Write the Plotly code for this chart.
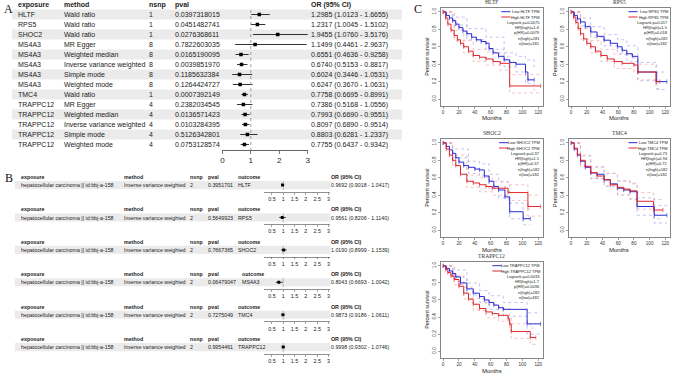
import plotly.graph_objects as go

W, H = 676, 377
def px(x): return x / W
def py(y): return 1 - y / H

SANS = "Liberation Sans"
SERIF = "Liberation Serif"

# ---------------- Panel A data ----------------
a_exposure = ["HLTF", "RPS5", "SHOC2", "MS4A3", "MS4A3", "MS4A3", "MS4A3", "MS4A3",
              "TMC4", "TRAPPC12", "TRAPPC12", "TRAPPC12", "TRAPPC12", "TRAPPC12"]
a_method = ["Wald ratio", "Wald ratio", "Wald ratio", "MR Egger", "Weighted median",
            "Inverse variance weighted", "Simple mode", "Weighted mode", "Wald ratio",
            "MR Egger", "Weighted median", "Inverse variance weighted", "Simple mode", "Weighted mode"]
a_nsnp = [1, 1, 1, 8, 8, 8, 8, 8, 1, 4, 4, 4, 4, 4]
a_pval = ["0.0397318015", "0.0451482741", "0.0276368611", "0.7822603035", "0.0165190095",
          "0.0039851970", "0.1185632384", "0.1264424727", "0.0007392149", "0.2382034545",
          "0.0136571423", "0.0103284395", "0.5126342801", "0.0753128574"]
a_or = [1.2985, 1.2317, 1.9455, 1.1499, 0.6551, 0.6740, 0.6024, 0.6247, 0.7758, 0.7386,
        0.7993, 0.8097, 0.8803, 0.7755]
a_lo = [1.0123, 1.0045, 1.0760, 0.4461, 0.4636, 0.5153, 0.3446, 0.3670, 0.6695, 0.5168,
        0.6690, 0.6890, 0.6281, 0.6437]
a_hi = [1.6655, 1.5102, 3.5176, 2.9637, 0.9258, 0.8817, 1.0531, 1.0631, 0.8991, 1.0556,
        0.9551, 0.9514, 1.2337, 0.9342]
a_ticks = [0, 1, 2, 3]

# ---------------- Panel B data ----------------
b_exposure = ["hepatocellular carcinoma || id:bbj-a-158"] * 6
b_method = ["Inverse variance weighted"] * 6
b_nsnp = [2, 2, 2, 2, 2, 2]
b_pval = ["0.3951701", "0.5649923", "0.7667365", "0.06479047", "0.7275049", "0.9954461"]
b_outcome = ["HLTF", "RPS5", "SHOC2", "MS4A3", "TMC4", "TRAPPC12"]
b_or = [0.9692, 0.9561, 1.0190, 0.8043, 0.9873, 0.9998]
b_lo = [0.9018, 0.8206, 0.8999, 0.6693, 0.9186, 0.9302]
b_hi = [1.0417, 1.1140, 1.1539, 1.0042, 1.0611, 1.0746]
b_ticks = [0.5, 1, 1.5, 2, 2.5, 3]
b_ticktext = ["0.5", "1", "1.5", "2", "2.5", "3"]

# ---------------- Panel C data (Kaplan-Meier) ----------------
km_genes = ["HLTF", "RPS5", "SHOC2", "TMC4", "TRAPPC12"]
km_stats = [
    ["Logrank p=0.0075", "HR(high)=1.6", "p(HR)=0.0079", "n(high)=181", "n(low)=181"],
    ["Logrank p=0.017", "HR(high)=1.5", "p(HR)=0.018", "n(high)=182", "n(low)=182"],
    ["Logrank p=0.37", "HR(high)=1.1", "p(HR)=0.37", "n(high)=182", "n(low)=182"],
    ["Logrank p=0.73", "HR(high)=0.94", "p(HR)=0.72", "n(high)=182", "n(low)=182"],
    ["Logrank p=0.0033", "HR(high)=1.7", "p(HR)=0.0036", "n(high)=182", "n(low)=182"],
]
km_xticks = [0, 20, 40, 60, 80, 100, 120]
km_yticks = [0, 0.2, 0.4, 0.6, 0.8, 1.0]

HLTF_low_t = [0, 4, 8, 12, 16, 20, 25, 30, 36, 42, 48, 54, 58, 63, 70, 77, 84, 92, 104, 107, 115]
HLTF_low_s = [1, 0.96, 0.93, 0.9, 0.86, 0.82, 0.78, 0.75, 0.71, 0.68, 0.66, 0.64, 0.58, 0.53, 0.49, 0.45, 0.42, 0.40, 0.31, 0.22, 0.22]
HLTF_high_t = [0, 3, 6, 10, 14, 18, 22, 26, 32, 38, 46, 54, 63, 72, 84, 123]
HLTF_high_s = [1, 0.93, 0.86, 0.79, 0.73, 0.68, 0.64, 0.6, 0.55, 0.5, 0.48, 0.46, 0.43, 0.41, 0.15, 0.15]
HLTF_lowci_t = [0, 12, 30, 54, 77, 92, 104, 115]
HLTF_lowci_up = [1, 0.94, 0.81, 0.71, 0.53, 0.49, 0.45, 0.37]
HLTF_lowci_lo = [1, 0.85, 0.68, 0.57, 0.37, 0.31, 0.18, 0.1]
HLTF_highci_t = [0, 14, 26, 38, 54, 72, 84, 123]
HLTF_highci_up = [1, 0.79, 0.67, 0.57, 0.54, 0.49, 0.28, 0.28]
HLTF_highci_lo = [1, 0.67, 0.53, 0.43, 0.39, 0.33, 0.07, 0.07]

RPS5_low_t = [0, 4, 8, 12, 18, 25, 33, 42, 50, 59, 65, 71, 78, 85, 109, 122]
RPS5_low_s = [1, 0.96, 0.92, 0.885, 0.83, 0.77, 0.72, 0.675, 0.64, 0.6, 0.56, 0.52, 0.49, 0.31, 0.2, 0.2]
RPS5_high_t = [0, 3, 6, 9, 12, 16, 20, 25, 31, 38, 46, 55, 65, 80, 85, 108, 113]
RPS5_high_s = [1, 0.94, 0.88, 0.81, 0.75, 0.69, 0.64, 0.6, 0.55, 0.5, 0.46, 0.43, 0.41, 0.39, 0.31, 0.2, 0.2]
RPS5_lowci_t = [0, 12, 25, 42, 59, 71, 85, 109, 122]
RPS5_lowci_up = [1, 0.93, 0.83, 0.74, 0.68, 0.61, 0.42, 0.31, 0.31]
RPS5_lowci_lo = [1, 0.84, 0.71, 0.61, 0.52, 0.43, 0.21, 0.11, 0.11]
RPS5_highci_t = [0, 12, 25, 38, 55, 80, 85, 108, 113]
RPS5_highci_up = [1, 0.81, 0.67, 0.57, 0.51, 0.47, 0.40, 0.3, 0.3]
RPS5_highci_lo = [1, 0.69, 0.53, 0.43, 0.35, 0.31, 0.22, 0.12, 0.12]

SHOC2_low_t = [0, 4, 8, 12, 16, 20, 26, 32, 40, 46, 52, 58, 64, 70, 78, 84, 101, 110]
SHOC2_low_s = [1, 0.96, 0.92, 0.88, 0.83, 0.78, 0.74, 0.72, 0.70, 0.69, 0.62, 0.56, 0.50, 0.46, 0.38, 0.21, 0.13, 0.13]
SHOC2_high_t = [0, 4, 8, 12, 16, 22, 30, 38, 46, 54, 62, 78, 82, 107, 123]
SHOC2_high_s = [1, 0.93, 0.86, 0.8, 0.74, 0.64, 0.56, 0.54, 0.52, 0.5, 0.48, 0.48, 0.43, 0.27, 0.27]
SHOC2_lowci_t = [0, 12, 32, 46, 58, 70, 84, 101, 110]
SHOC2_lowci_up = [1, 0.93, 0.79, 0.76, 0.64, 0.55, 0.31, 0.24, 0.24]
SHOC2_lowci_lo = [1, 0.83, 0.65, 0.62, 0.48, 0.37, 0.13, 0.06, 0.06]
SHOC2_highci_t = [0, 12, 30, 46, 62, 82, 107, 123]
SHOC2_highci_up = [1, 0.86, 0.63, 0.6, 0.56, 0.52, 0.4, 0.4]
SHOC2_highci_lo = [1, 0.74, 0.49, 0.44, 0.4, 0.34, 0.16, 0.16]

TMC4_low_t = [0, 4, 8, 12, 18, 25, 33, 42, 50, 59, 67, 75, 84, 106, 122]
TMC4_low_s = [1, 0.93, 0.86, 0.79, 0.72, 0.655, 0.64, 0.575, 0.53, 0.48, 0.46, 0.44, 0.27, 0.17, 0.17]
TMC4_high_t = [0, 4, 8, 12, 18, 25, 33, 42, 50, 59, 67, 75, 84, 105, 117]
TMC4_high_s = [1, 0.94, 0.87, 0.8, 0.73, 0.66, 0.62, 0.58, 0.52, 0.49, 0.47, 0.45, 0.33, 0.23, 0.23]
TMC4_lowci_t = [0, 12, 25, 42, 59, 75, 84, 106, 122]
TMC4_lowci_up = [1, 0.85, 0.72, 0.65, 0.56, 0.53, 0.37, 0.28, 0.28]
TMC4_lowci_lo = [1, 0.73, 0.59, 0.5, 0.4, 0.35, 0.17, 0.08, 0.08]
TMC4_highci_t = [0, 12, 25, 42, 59, 75, 84, 105, 117]
TMC4_highci_up = [1, 0.86, 0.73, 0.65, 0.57, 0.54, 0.43, 0.35, 0.35]
TMC4_highci_lo = [1, 0.74, 0.59, 0.51, 0.41, 0.36, 0.24, 0.13, 0.13]

TRAPPC12_low_t = [0, 4, 8, 12, 16, 22, 30, 38, 46, 52, 58, 64, 70, 76, 106, 123]
TRAPPC12_low_s = [1, 0.97, 0.94, 0.91, 0.87, 0.8, 0.73, 0.68, 0.64, 0.6, 0.57, 0.54, 0.51, 0.49, 0.32, 0.32]
TRAPPC12_high_t = [0, 3, 6, 10, 14, 20, 26, 32, 38, 46, 54, 62, 70, 82, 84, 86, 110, 117]
TRAPPC12_high_s = [1, 0.96, 0.92, 0.88, 0.84, 0.76, 0.68, 0.61, 0.55, 0.5, 0.46, 0.44, 0.42, 0.38, 0.32, 0.23, 0.16, 0.16]
TRAPPC12_lowci_t = [0, 12, 30, 46, 58, 76, 106, 123]
TRAPPC12_lowci_up = [1, 0.95, 0.8, 0.71, 0.65, 0.57, 0.45, 0.45]
TRAPPC12_lowci_lo = [1, 0.87, 0.66, 0.57, 0.49, 0.41, 0.2, 0.2]
TRAPPC12_highci_t = [0, 14, 26, 38, 54, 70, 84, 86, 110, 117]
TRAPPC12_highci_up = [1, 0.89, 0.75, 0.62, 0.54, 0.5, 0.41, 0.32, 0.27, 0.27]
TRAPPC12_highci_lo = [1, 0.78, 0.61, 0.48, 0.39, 0.35, 0.24, 0.15, 0.08, 0.08]

km_curves = [
    (HLTF_low_t, HLTF_low_s, HLTF_high_t, HLTF_high_s, HLTF_lowci_t, HLTF_lowci_up, HLTF_lowci_lo, HLTF_highci_t, HLTF_highci_up, HLTF_highci_lo),
    (RPS5_low_t, RPS5_low_s, RPS5_high_t, RPS5_high_s, RPS5_lowci_t, RPS5_lowci_up, RPS5_lowci_lo, RPS5_highci_t, RPS5_highci_up, RPS5_highci_lo),
    (SHOC2_low_t, SHOC2_low_s, SHOC2_high_t, SHOC2_high_s, SHOC2_lowci_t, SHOC2_lowci_up, SHOC2_lowci_lo, SHOC2_highci_t, SHOC2_highci_up, SHOC2_highci_lo),
    (TMC4_low_t, TMC4_low_s, TMC4_high_t, TMC4_high_s, TMC4_lowci_t, TMC4_lowci_up, TMC4_lowci_lo, TMC4_highci_t, TMC4_highci_up, TMC4_highci_lo),
    (TRAPPC12_low_t, TRAPPC12_low_s, TRAPPC12_high_t, TRAPPC12_high_s, TRAPPC12_lowci_t, TRAPPC12_lowci_up, TRAPPC12_lowci_lo, TRAPPC12_highci_t, TRAPPC12_highci_up, TRAPPC12_highci_lo),
]

# ---------------- layout geometry (pixels) ----------------
A_Y0, A_DY = 14.5, 10.0
A_COLS = [15, 61, 147, 173, 310]
A_FOREST = (222, 308)
A_AXIS_Y = 150
A_FS = 7.0

B_Y0, B_DY = 177.0, 8.1
B_COLS = [18, 122, 188, 207, 237, 330]
B_OUTCOME_SHIFT = [0, 0, 0, 4, 0, 0]
B_FOREST = (264, 330)
B_FS = 5.3

KM_BOX = [
    (442, 545, 8, 106),
    (571, 673, 8, 106),
    (442, 545, 139, 237),
    (571, 673, 139, 237),
    (442, 545, 262, 358),
]
BLUE, RED = "#2b2bd6", "#e0282e"
LBLUE, LRED = "#a8a8f0", "#f3a8a8"

fig = go.Figure()
ann = []
shapes = []

def txt(x, y, s, xref, yref, size, bold=False, anchor="left", color="#222",
        family=SANS, yanchor="middle", angle=0):
    ann.append(dict(x=x, y=y, xref=xref, yref=yref, text=(f"<b>{s}</b>" if bold else s),
                    showarrow=False, xanchor=anchor, yanchor=yanchor, textangle=angle,
                    borderpad=0, font=dict(size=size, color=color, family=family)))

axes = {}
axes["xaxis"] = dict(domain=[0, 1], range=[0, W], visible=False, anchor="y", fixedrange=True)
axes["yaxis"] = dict(domain=[py(155), py(0)], range=[(155 - A_Y0) / A_DY, (0 - A_Y0) / A_DY],
                     visible=False, anchor="x")
axes["yaxis2"] = dict(domain=[0, py(160)], range=[(377 - B_Y0) / B_DY, (160 - B_Y0) / B_DY],
                      visible=False, anchor="x")

# ---------------- Panel A ----------------
nA = len(a_exposure)
for i in range(0, nA, 2):
    shapes.append(dict(type="rect", xref="x", yref="y", x0=10, x1=403, y0=i - 0.5, y1=i + 0.5,
                       fillcolor="#ebebeb", line=dict(width=0), layer="below"))
headers = ["exposure", "method", "nsnp", "pval", "OR (95% CI)"]
for c, h in zip(A_COLS, headers):
    txt(c, -1, h, "x", "y", A_FS, bold=True)
for i in range(nA):
    txt(A_COLS[0], i, a_exposure[i], "x", "y", A_FS)
    txt(A_COLS[1], i, a_method[i], "x", "y", A_FS)
    txt(A_COLS[2], i, str(a_nsnp[i]), "x", "y", A_FS)
    txt(A_COLS[3], i, a_pval[i], "x", "y", A_FS)
    txt(A_COLS[4], i, f"{a_or[i]:.4f} ({a_lo[i]:.4f} - {a_hi[i]:.4f})", "x", "y", A_FS)

axes["xaxis2"] = dict(domain=[px(A_FOREST[0]), px(A_FOREST[1])], range=[0, 3], anchor="free",
                      position=py(A_AXIS_Y), tickvals=a_ticks, ticks="outside", ticklen=3,
                      tickwidth=0.7, showline=True, linewidth=0.7, linecolor="#222",
                      tickfont=dict(size=8, family=SANS, color="#222"), showgrid=False,
                      zeroline=False, fixedrange=True)
shapes.append(dict(type="line", xref="x2", yref="y", x0=1, x1=1, y0=-0.45,
                   y1=(A_AXIS_Y - A_Y0) / A_DY, line=dict(color="#888", width=0.8, dash="dot")))
fig.add_trace(go.Scatter(
    x=a_or, y=list(range(nA)), mode="markers", xaxis="x2", yaxis="y",
    marker=dict(symbol="square", size=3.5, color="black"),
    error_x=dict(type="data", symmetric=False,
                 array=[h - o for h, o in zip(a_hi, a_or)],
                 arrayminus=[o - l for o, l in zip(a_or, a_lo)],
                 width=0, thickness=0.8, color="black"),
    showlegend=False, hoverinfo="skip"))

ann.append(dict(x=px(0), y=py(9), xref="paper", yref="paper", text="A", showarrow=False,
                xanchor="left", yanchor="middle", font=dict(size=12, family=SERIF, color="#111")))

# ---------------- Panel B ----------------
b_headers = ["exposure", "method", "nsnp", "pval", "outcome", "OR (95% CI)"]
for k in range(len(b_outcome)):
    hr, dr = 4 * k, 4 * k + 1
    cols = list(B_COLS)
    cols[4] += B_OUTCOME_SHIFT[k]
    shapes.append(dict(type="rect", xref="x", yref="y2", x0=13, x1=331, y0=dr - 0.5, y1=dr + 0.5,
                       fillcolor="#ebebeb", line=dict(width=0), layer="below"))
    for c, h in zip(cols, b_headers):
        txt(c, hr, h, "x", "y2", B_FS, bold=True)
    vals = [b_exposure[k], b_method[k], str(b_nsnp[k]), b_pval[k], b_outcome[k],
            f"{b_or[k]:.4f} ({b_lo[k]:.4f} - {b_hi[k]:.4f})"]
    for c, v in zip(cols, vals):
        txt(c, dr, v, "x", "y2", B_FS)
    ax_y = B_Y0 + B_DY * dr + 7
    xa = f"xaxis{3 + k}"
    axes[xa] = dict(domain=[px(B_FOREST[0]), px(B_FOREST[1])], range=[0.15, 3.05], anchor="free",
                    position=py(ax_y), tickvals=b_ticks, ticktext=b_ticktext, ticks="outside",
                    ticklen=2, tickwidth=0.5, showline=True, linewidth=0.5, linecolor="#222",
                    tickfont=dict(size=5.4, family=SANS, color="#222"), showgrid=False,
                    zeroline=False, fixedrange=True)
    shapes.append(dict(type="line", xref=f"x{3 + k}", yref="y2", x0=1, x1=1, y0=dr - 0.5,
                       y1=(ax_y - B_Y0) / B_DY, line=dict(color="#888", width=0.6, dash="dot")))
    fig.add_trace(go.Scatter(
        x=[b_or[k]], y=[dr], mode="markers", xaxis=f"x{3 + k}", yaxis="y2",
        marker=dict(symbol="square", size=3, color="black"),
        error_x=dict(type="data", symmetric=False, array=[b_hi[k] - b_or[k]],
                     arrayminus=[b_or[k] - b_lo[k]], width=0, thickness=0.7, color="black"),
        showlegend=False, hoverinfo="skip"))

ann.append(dict(x=px(1), y=py(178), xref="paper", yref="paper", text="B", showarrow=False,
                xanchor="left", yanchor="middle", font=dict(size=12, family=SERIF, color="#111")))

# ---------------- Panel C ----------------
ann.append(dict(x=px(413), y=py(9), xref="paper", yref="paper", text="C", showarrow=False,
                xanchor="left", yanchor="middle", font=dict(size=12, family=SERIF, color="#111")))

for g, gene in enumerate(km_genes):
    xn, yn = 9 + g, 3 + g
    x0, x1, y0, y1 = KM_BOX[g]
    axes[f"xaxis{xn}"] = dict(domain=[px(x0), px(x1)], range=[-3, 126], anchor=f"y{yn}",
                              tickvals=km_xticks, ticks="outside", ticklen=2, tickwidth=0.5,
                              showline=True, mirror=True, linewidth=0.6, linecolor="#333",
                              tickfont=dict(size=4.6, family=SANS, color="#333"),
                              showgrid=False, zeroline=False, fixedrange=True)
    axes[f"yaxis{yn}"] = dict(domain=[py(y1), py(y0)], range=[-0.08, 1.045], anchor=f"x{xn}",
                              tickvals=km_yticks, ticktext=["0.0", "0.2", "0.4", "0.6", "0.8", "1.0"],
                              tickangle=-90, ticks="outside", ticklen=2, tickwidth=0.5,
                              showline=True, mirror=True, linewidth=0.6, linecolor="#333",
                              tickfont=dict(size=4.6, family=SANS, color="#333"),
                              showgrid=False, zeroline=False, fixedrange=True)
    ann.append(dict(x=px((x0 + x1) / 2), y=py(y1 + 12.5), xref="paper", yref="paper", text="Months",
                    showarrow=False, xanchor="center", yanchor="middle", borderpad=0,
                    font=dict(size=6.0, family=SANS, color="#222")))
    ann.append(dict(x=px(x0 - 14), y=py((y0 + y1) / 2), xref="paper", yref="paper",
                    text="Percent survival", textangle=-90, showarrow=False, xanchor="center",
                    yanchor="middle", borderpad=0, font=dict(size=5.4, family=SANS, color="#222")))
    lt, ls, ht, hs, lct, lcu, lcl, hct, hcu, hcl = km_curves[g]
    for tt, ss, col in [(lct, lcu, LBLUE), (lct, lcl, LBLUE), (hct, hcu, LRED), (hct, hcl, LRED)]:
        fig.add_trace(go.Scatter(x=tt, y=ss, mode="lines", line=dict(color=col, width=0.7, dash="dot", shape="hv"),
                                 xaxis=f"x{xn}", yaxis=f"y{yn}", showlegend=False, hoverinfo="skip"))
    for tt, ss, col in [(lt, ls, BLUE), (ht, hs, RED)]:
        fig.add_trace(go.Scatter(x=tt, y=ss, mode="lines+markers",
                                 line=dict(color=col, width=1.0, shape="hv"),
                                 marker=dict(symbol="line-ns-open", size=3, color=col,
                                             line=dict(width=0.6, color=col)),
                                 xaxis=f"x{xn}", yaxis=f"y{yn}", showlegend=False, hoverinfo="skip"))
    ann.append(dict(x=0.5, y=1.0, xref=f"x{xn} domain", yref=f"y{yn} domain", text=gene,
                    showarrow=False, xanchor="center", yanchor="bottom", yshift=1,
                    font=dict(size=5.6, family=SERIF, color="#333")))
    fs = 4.0
    hdom = (y1 - y0)
    step = 5.3 / hdom
    wdom = (x1 - x0)
    leg = [(f"Low {gene} TPM", BLUE, 1 - 3.7 / hdom), (f"High {gene} TPM", RED, 1 - 3.7 / hdom - step)]
    for label, col, yy in leg:
        ann.append(dict(x=0.985, y=yy, xref=f"x{xn} domain", yref=f"y{yn} domain", text=label,
                        showarrow=False, xanchor="right", yanchor="middle", borderpad=0,
                        font=dict(size=fs, family=SANS, color="#222")))
        tw = len(f"High {gene} TPM") * fs * 0.56 / wdom
        xe = 0.985 - tw - 0.02
        shapes.append(dict(type="line", xref=f"x{xn} domain", yref=f"y{yn} domain",
                           x0=xe - 0.09, x1=xe, y0=yy, y1=yy, line=dict(color=col, width=1)))
    for j, sline in enumerate(km_stats[g]):
        ann.append(dict(x=0.985, y=1 - 3.7 / hdom - step * (2 + j), xref=f"x{xn} domain",
                        yref=f"y{yn} domain", text=sline, showarrow=False, xanchor="right",
                        yanchor="middle", borderpad=0,
                        font=dict(size=fs, family=SANS, color="#222")))

fig.update_layout(
    width=W, height=H, margin=dict(l=0, r=0, t=0, b=0),
    paper_bgcolor="white", plot_bgcolor="rgba(0,0,0,0)",
    font=dict(family=SANS, color="#222"),
    showlegend=False, annotations=ann, shapes=shapes, **axes)

fig.write_html("out.html", config={"displayModeBar": False, "staticPlot": True},
               post_script="document.body.style.margin='0';document.body.style.padding='0';")
